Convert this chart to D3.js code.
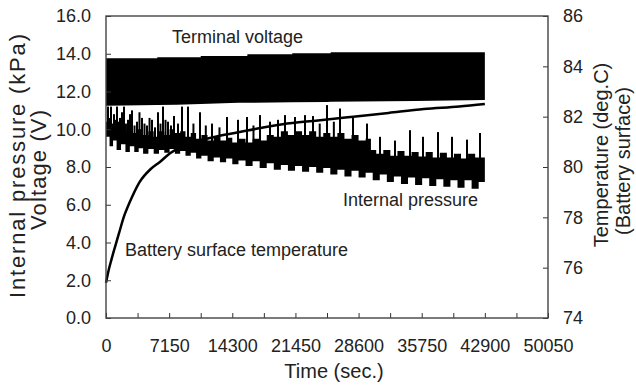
<!DOCTYPE html>
<html><head><meta charset="utf-8">
<script src="https://cdn.jsdelivr.net/npm/d3@7"></script>
<style>
html,body{margin:0;padding:0;background:#fff;}
svg text{font-family:"Liberation Sans",Arial,Helvetica,sans-serif;fill:#222;}
</style></head>
<body><svg id="c" width="636" height="388"></svg>
<script>
// ---------- data ----------
const xTickLabels = [0, 7150, 14300, 21450, 28600, 35750, 42900, 50050];
const xMinorTicks = [3575, 10725, 17875, 25025, 32175, 39325, 46475];
const leftTicks = [0, 2, 4, 6, 8, 10, 12, 14, 16];
const rightTicks = [74, 76, 78, 80, 82, 84, 86];

// Terminal voltage (V): dense charge pulses -> upper / lower envelope
const voltageTop = [[0,13.76],[5800,13.76],[5810,13.81],[10720,13.81],[10730,13.88],[16000,13.88],[16010,13.97],[21090,13.97],[21100,14.02],[25440,14.02],[25450,14.08],[42900,14.08]];
const voltageBottom = [[0,11.25],[8000,11.3],[15000,11.4],[25000,11.45],[35000,11.5],[42900,11.55]];

// Internal pressure (kPa): band top, band bottom and pulse spikes
const pressureHigh = [[0,10.4],[600,10.1],[1200,10.3],[1800,9.9],[2400,10.1],[3000,9.8],[3600,10.0],[4200,9.7],[4800,9.9],[5400,9.6],[6000,9.9],[6600,9.7],[7200,10.0],[7800,9.8],[8400,9.9],[9000,9.6],[9600,9.8],[10200,9.5],[10800,9.7],[11500,9.4],[12200,9.6],[12900,9.4],[13600,9.55],[14300,9.3],[15000,9.5],[15800,9.3],[16600,9.5],[17400,9.4],[18200,9.7],[19000,9.6],[19800,9.9],[20600,9.7],[21400,9.9],[22200,9.7],[23000,9.9],[23800,9.6],[24600,9.8],[25400,9.6],[26200,9.8],[27000,9.5],[27800,9.7],[28600,9.4],[29400,9.5],[30000,8.9],[30600,8.7],[31400,8.9],[32200,8.6],[33000,8.85],[33800,8.6],[34600,8.8],[35400,8.55],[36200,8.8],[37000,8.5],[37800,8.75],[38600,8.5],[39400,8.7],[40200,8.45],[41000,8.7],[41800,8.5],[42900,8.6]];
const pressureLow = [[0,9.6],[400,9.1],[800,9.4],[1200,8.9],[1700,9.2],[2200,8.8],[2700,9.1],[3200,8.8],[3700,9.0],[4200,8.7],[4800,8.95],[5400,8.7],[6000,8.9],[6600,8.75],[7200,8.95],[7800,8.7],[8400,8.85],[9000,8.6],[9600,8.75],[10200,8.45],[10800,8.6],[11500,8.3],[12200,8.5],[12900,8.25],[13600,8.45],[14300,8.15],[15000,8.35],[15800,8.05],[16600,8.3],[17400,7.95],[18200,8.2],[19000,7.85],[19800,8.1],[20600,7.8],[21400,8.05],[22200,7.75],[23000,8.0],[23800,7.7],[24600,7.95],[25400,7.6],[26200,7.85],[27000,7.5],[27800,7.8],[28600,7.45],[29400,7.7],[30200,7.3],[31000,7.6],[31800,7.2],[32600,7.5],[33400,7.1],[34200,7.45],[35000,7.05],[35800,7.4],[36600,7.0],[37400,7.35],[38200,6.95],[39000,7.3],[39800,6.9],[40600,7.3],[41400,6.85],[42200,7.2],[42900,6.9]];
const pressureSpikes = [[110,10.0],[226,11.2],[400,10.6],[566,11.2],[740,10.3],[906,10.8],[1080,10.5],[1246,11.2],[1420,10.4],[1585,10.6],[1810,10.9],[2038,11.2],[2260,10.3],[2491,10.5],[2720,10.8],[2944,11.0],[3230,10.2],[3510,10.4],[3790,10.9],[4077,10.6],[4360,10.3],[4643,10.2],[4930,10.6],[5209,10.5],[5550,10.1],[5888,10.9],[6170,10.3],[6455,11.2],[6740,10.5],[7021,10.4],[7360,10.2],[7700,10.7],[8150,10.3],[8606,11.2],[9286,11.2],[9900,10.3],[10645,10.9],[11300,10.2],[12003,10.3],[12850,10.1],[13702,10.65],[14948,10.5],[15967,10.65],[16700,10.2],[17439,10.75],[18571,10.4],[19477,10.5],[20270,10.75],[21402,10.65],[22535,10.75],[23441,10.7],[24200,10.3],[25026,11.28],[25800,10.4],[26498,11.1],[27970,10.6],[29556,10.3],[31028,9.6],[32727,9.4],[34425,9.95],[35897,9.6],[37596,9.85],[39181,9.6],[40880,9.45],[42350,9.8]];

// Battery surface temperature (deg.C)
const temperature = [[0,75.4],[300,75.9],[600,76.3],[1000,76.8],[1500,77.4],[2000,78.0],[2500,78.45],[3000,78.85],[3800,79.4],[5000,79.9],[6100,80.2],[7250,80.55],[8800,80.85],[10000,81.0],[13000,81.25],[16000,81.45],[20000,81.7],[24000,81.85],[28000,82.0],[32000,82.15],[36000,82.3],[40000,82.4],[42900,82.5]];

// ---------- chart ----------
const svg = d3.select("#c");
const x = d3.scaleLinear().domain([0, 50050]).range([106, 548]);
const yL = d3.scaleLinear().domain([0, 16]).range([318, 16]);
const yR = d3.scaleLinear().domain([74, 86]).range([318, 16]);

const interpAt = (arr, t) => {
  const i = d3.bisector(d=>d[0]).left(arr, t);
  if (i <= 0) return arr[0][1];
  if (i >= arr.length) return arr[arr.length-1][1];
  const a = arr[i-1], b = arr[i];
  if (b[0] === t) return b[1];
  return a[1] + (b[1]-a[1]) * (t-a[0]) / (b[0]-a[0]);
};
const stepAt = (arr, t) => {
  const i = d3.bisector(d=>d[0]).right(arr, t) - 1;
  return arr[Math.max(0, Math.min(arr.length-1, i))][1];
};
const band = (top, bot, fn) => {
  const ts = Array.from(new Set(top.map(d=>d[0]).concat(bot.map(d=>d[0])))).sort((a,b)=>a-b);
  return ts.map(t => ({t, hi: fn(top, t), lo: fn(bot, t)}));
};

// voltage band
svg.append("path")
  .attr("d", d3.area().x(d=>x(d.t)).y0(d=>yL(d.lo)).y1(d=>yL(d.hi))(band(voltageTop, voltageBottom, interpAt)))
  .attr("fill", "#000");
// pressure band (stepped pulses)
svg.append("path")
  .attr("d", d3.area().curve(d3.curveStepAfter).x(d=>x(d.t)).y0(d=>yL(d.lo)).y1(d=>yL(d.hi))(band(pressureHigh, pressureLow, stepAt)))
  .attr("fill", "#000");
// pressure spikes
svg.append("g").selectAll("line").data(pressureSpikes).join("line")
  .attr("x1", d=>x(d[0])).attr("x2", d=>x(d[0]))
  .attr("y1", d=>yL(d[1])).attr("y2", d=>yL(stepAt(pressureHigh, d[0]) - 0.3))
  .attr("stroke", "#000").attr("stroke-width", 2);
// temperature line
svg.append("path").datum(temperature)
  .attr("d", d3.line().x(d=>x(d[0])).y(d=>yR(d[1])).curve(d3.curveMonotoneX))
  .attr("fill", "none").attr("stroke", "#000").attr("stroke-width", 2.5);

// axes
const fontSize = 18;
const gL = svg.append("g").attr("transform", `translate(${x(0)},0)`)
  .call(d3.axisLeft(yL).tickValues(leftTicks).tickSize(-5).tickPadding(15).tickFormat(d3.format(".1f")));
const gR = svg.append("g").attr("transform", `translate(${x(50050)},0)`)
  .call(d3.axisRight(yR).tickValues(rightTicks).tickSize(-5).tickPadding(15).tickFormat(d3.format("d")));
const gB = svg.append("g").attr("transform", `translate(0,${yL(0)})`)
  .call(d3.axisBottom(x).tickValues(xTickLabels).tickSize(-5).tickPadding(21).tickFormat(d3.format("d")));
const gBm = svg.append("g").attr("transform", `translate(0,${yL(0)})`)
  .call(d3.axisBottom(x).tickValues(xMinorTicks).tickSize(-5).tickFormat(""));
[gL, gR, gB, gBm].forEach(g => {
  g.select(".domain").remove();
  g.selectAll(".tick line").attr("stroke", "#333").attr("stroke-width", 1);
  g.selectAll("text").attr("font-size", fontSize).attr("fill", "#222")
    .attr("font-family", '"Liberation Sans",Arial,sans-serif');
});

// frame
svg.append("rect").attr("x", x(0)).attr("y", yL(16)).attr("width", x(50050)-x(0)).attr("height", yL(0)-yL(16))
  .attr("fill", "none").attr("stroke", "#444").attr("stroke-width", 1.4);

// axis titles
svg.append("text").attr("transform", "translate(25,166) rotate(-90)").attr("text-anchor","middle")
  .attr("font-size", 22).attr("textLength", 264).attr("lengthAdjust","spacing").text("Internal pressure (kPa)");
svg.append("text").attr("transform", "translate(46,170) rotate(-90)").attr("text-anchor","middle")
  .attr("font-size", 22).attr("textLength", 120).attr("lengthAdjust","spacing").text("Voltage  (V)");
svg.append("text").attr("transform", "translate(608,155) rotate(-90)").attr("text-anchor","middle")
  .attr("font-size", 20).text("Temperature (deg.C)");
svg.append("text").attr("transform", "translate(630,161) rotate(-90)").attr("text-anchor","middle")
  .attr("font-size", 20).text("(Battery surface)");
svg.append("text").attr("x", 334).attr("y", 378).attr("text-anchor","middle")
  .attr("font-size", 20).text("Time (sec.)");

// series labels
svg.append("text").attr("x", 172).attr("y", 43).attr("font-size", 18).text("Terminal voltage");
svg.append("text").attr("x", 343).attr("y", 206).attr("font-size", 18).text("Internal pressure");
svg.append("text").attr("x", 125).attr("y", 256).attr("font-size", 18).text("Battery surface temperature");
</script></body></html>
